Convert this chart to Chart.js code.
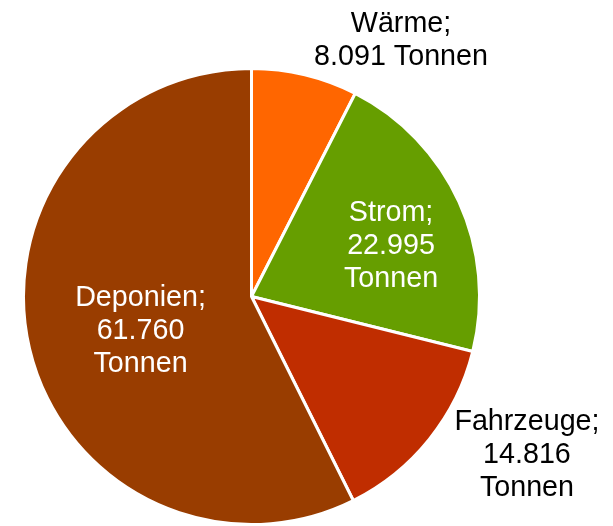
<!DOCTYPE html>
<html>
<head>
<meta charset="utf-8">
<script src="https://cdn.jsdelivr.net/npm/chart.js@4/dist/chart.umd.min.js"></script>
<style>
  html, body { margin: 0; padding: 0; background: #fff; }
  #wrap { width: 613px; height: 526px; }
</style>
</head>
<body>
<div id="wrap"><canvas id="pieChart" width="613" height="526"></canvas></div>
<script>
// Data (Tonnen)
const categories = ['Wärme', 'Strom', 'Fahrzeuge', 'Deponien'];
const tonnen = [8091, 22995, 14816, 61760];
const sliceColors = ['#ff6600', '#669e00', '#c02d00', '#993d00'];
const labelColors = ['#000000', '#ffffff', '#000000', '#ffffff'];
// label placement: angle clockwise from top (deg), distance as factor of radius
const labelAngle = [30.3, 70.3, 120.0, 252.6];
const labelDist = [1.30, 0.65, 1.395, 0.51];

function fmtDe(n) {
  return String(n).replace(/\B(?=(\d{3})+(?!\d))/g, '.');
}

// draws the "Name; value Tonnen" labels
const pieLabels = {
  id: 'pieLabels',
  afterDatasetsDraw(chart) {
    const ctx = chart.ctx;
    const arcs = chart.getDatasetMeta(0).data;
    const cx = arcs[0].x, cy = arcs[0].y, r = arcs[0].outerRadius;
    ctx.save();
    ctx.font = '28.7px "Liberation Sans", Arial, sans-serif';
    ctx.textAlign = 'center';
    ctx.textBaseline = 'middle';
    const lineH = 33;
    categories.forEach((name, i) => {
      const a = labelAngle[i] * Math.PI / 180;
      const x = cx + Math.sin(a) * r * labelDist[i];
      const y = cy - Math.cos(a) * r * labelDist[i];
      let lines;
      if (i === 0) lines = [name + ';', fmtDe(tonnen[i]) + ' Tonnen'];
      else lines = [name + ';', fmtDe(tonnen[i]), 'Tonnen'];
      const top = y - (lines.length - 1) * lineH / 2;
      ctx.fillStyle = labelColors[i];
      lines.forEach((t, k) => ctx.fillText(t, x, top + k * lineH));
    });
    ctx.restore();
  }
};

new Chart(document.getElementById('pieChart').getContext('2d'), {
  type: 'pie',
  data: {
    labels: categories,
    datasets: [{
      data: tonnen,
      backgroundColor: sliceColors,
      borderColor: '#ffffff',
      borderWidth: 3
    }]
  },
  options: {
    responsive: false,
    animation: false,
    layout: { padding: { left: 21, right: 131, top: 67, bottom: -2 } },
    plugins: {
      legend: { display: false },
      tooltip: { enabled: false }
    }
  },
  plugins: [pieLabels]
});
</script>
</body>
</html>
